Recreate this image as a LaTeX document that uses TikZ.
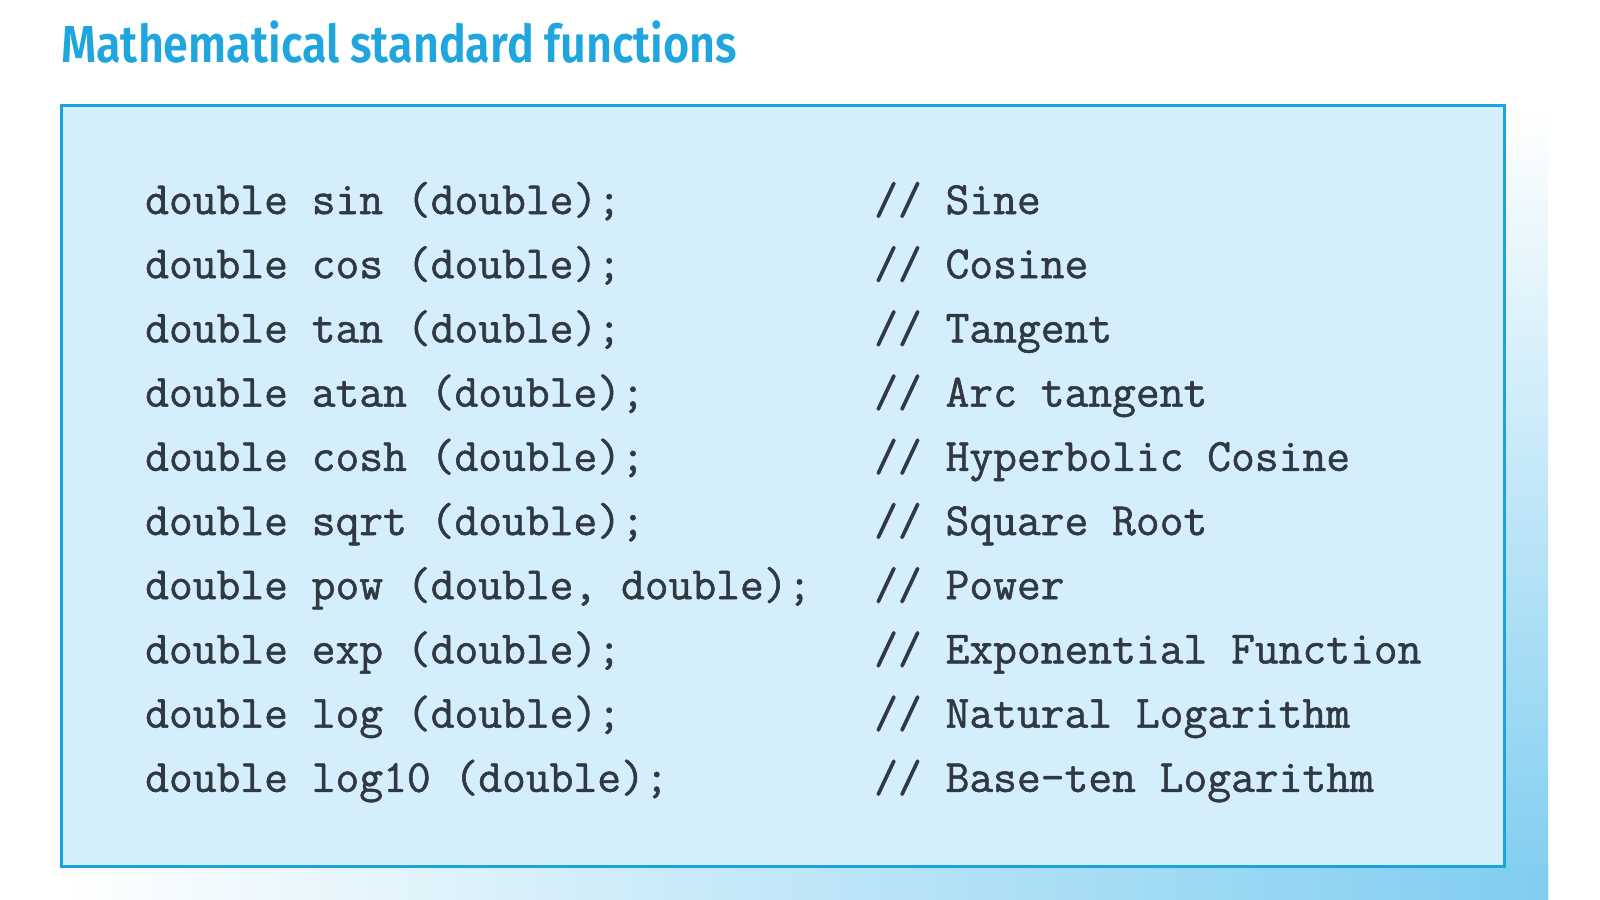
\documentclass[tikz,border=0pt]{standalone}
\usepackage{fontspec}
\newfontfamily\codefont{Latin Modern Mono}[FakeBold=1.2]
\newfontfamily\titlefont{Fira Sans}[BoldFont={Fira Sans SemiBold}]
\definecolor{titleblue}{RGB}{31,166,223}
\definecolor{boxblue}{RGB}{26,163,220}
\definecolor{boxfill}{RGB}{212,239,251}
\definecolor{codegray}{RGB}{48,56,66}
\definecolor{shblue}{RGB}{127,205,240}
\newsavebox\titlebox
\begin{document}
\sbox\titlebox{\color{titleblue}\titlefont\bfseries\fontsize{52}{52}\selectfont Mathematical standard functions}%
\pgfmathsetmacro\tscale{676/\wd\titlebox}%
\begin{tikzpicture}[x=1pt,y=-1pt,
  code/.style={anchor=base west,inner sep=0pt,text=codegray,font=\codefont\fontsize{46.2}{46.2}\selectfont},
  panel/.style={draw=boxblue,fill=boxfill,line width=3pt,inner sep=0pt,anchor=north west,minimum width=1443pt,minimum height=761pt}]
\useasboundingbox (0,0) rectangle (1600,899);
\fill[white] (0,0) rectangle (1600,899);
% shadow strips
\shade[top color=white,bottom color=shblue] (1503,110) rectangle (1548,899);
\shade[left color=white,right color=shblue] (60,865) rectangle (1548,899);
% title
\node (title) [anchor=base west,inner sep=0pt] at (61,63) {\scalebox{\tscale}[1]{\usebox\titlebox}};
% box
\node (box) [panel] at (60,104) {};
% code
\foreach \i/\c/\m in {0/{double sin (double);}/{// Sine},
  1/{double cos (double);}/{// Cosine},
  2/{double tan (double);}/{// Tangent},
  3/{double atan (double);}/{// Arc tangent},
  4/{double cosh (double);}/{// Hyperbolic Cosine},
  5/{double sqrt (double);}/{// Square Root},
  6/{double pow (double, double);}/{// Power},
  7/{double exp (double);}/{// Exponential Function},
  8/{double log (double);}/{// Natural Logarithm},
  9/{double log10 (double);}/{// Base-ten Logarithm}}{
  \node (c\i) [code] at (145,214+64.2*\i) {\c};
  \node (m\i) [code] at (874,214+64.2*\i) {\m};
}
\end{tikzpicture}
\end{document}
